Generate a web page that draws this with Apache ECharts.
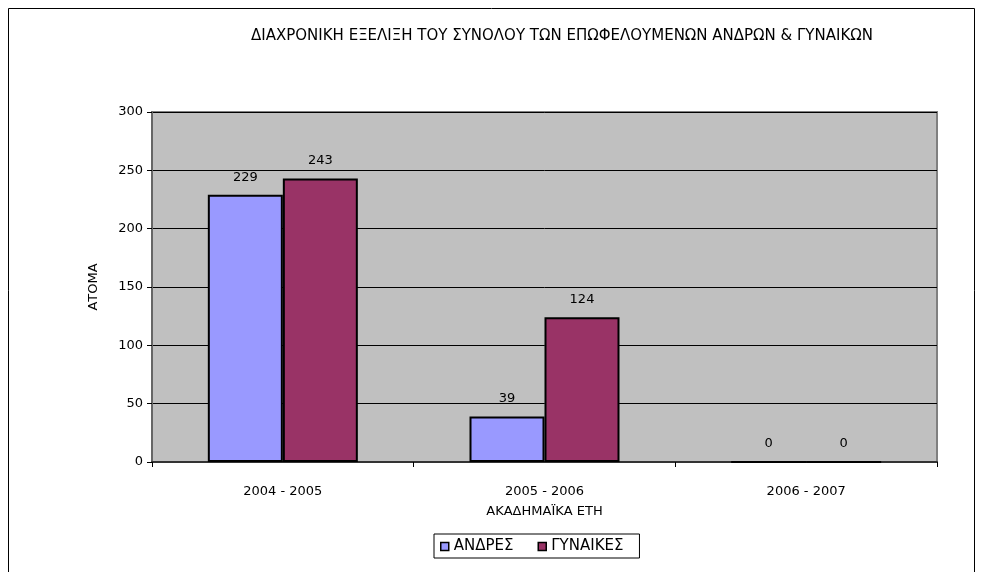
<!DOCTYPE html>
<html>
<head>
<meta charset="utf-8">
<script src="https://cdn.jsdelivr.net/npm/echarts@6/dist/echarts.min.js"></script>
<style>
html,body{margin:0;padding:0;background:#fff;}
#chart{width:982px;height:572px;}
</style>
</head>
<body>
<div id="chart"></div>
<script>
// ακαδημαϊκά έτη
var years = ['2004 - 2005', '2005 - 2006', '2006 - 2007'];
var andres = [229, 39, 0];
var gynaikes = [243, 124, 0];
var yTicks = [0, 50, 100, 150, 200, 250, 300];

var font = '"DejaVu Sans", Arial, sans-serif';

var option = {
	animation: false,
	textStyle: { fontFamily: font },
	graphic: [{
		type: 'rect',
		shape: { x: 8.5, y: 8.5, width: 966, height: 600 },
		style: { fill: 'none', stroke: '#000', lineWidth: 1 },
		silent: true
	}],
	title: {
		text: 'ΔΙΑΧΡΟΝΙΚΗ ΕΞΕΛΙΞΗ ΤΟΥ ΣΥΝΟΛΟΥ ΤΩΝ ΕΠΩΦΕΛΟΥΜΕΝΩΝ ΑΝΔΡΩΝ & ΓΥΝΑΙΚΩΝ',
		left: 557,
		textAlign: 'center',
		top: 24,
		textStyle: { fontSize: 15, fontWeight: 'normal', color: '#000', fontFamily: font }
	},
	legend: {
		data: ['ΑΝΔΡΕΣ', 'ΓΥΝΑΙΚΕΣ'],
		left: 434,
		top: 534,
		itemWidth: 8,
		itemHeight: 8,
		itemGap: 24,
		icon: 'rect',
		borderColor: '#000',
		borderWidth: 1,
		padding: [5, 16, 4, 6],
		itemStyle: { borderColor: '#000', borderWidth: 1.5 },
		textStyle: { fontSize: 15, color: '#000', fontFamily: font }
	},
	grid: {
		left: 152,
		top: 112,
		width: 785,
		height: 350,
		show: true,
		backgroundColor: '#c0c0c0',
		borderColor: '#808080',
		borderWidth: 2
	},
	xAxis: {
		type: 'category',
		data: years,
		name: 'ΑΚΑΔΗΜΑΪΚΑ ΕΤΗ',
		nameLocation: 'middle',
		nameGap: 43,
		nameTextStyle: { fontSize: 13, color: '#000' },
		axisLine: { lineStyle: { color: '#333', width: 2 } },
		axisTick: { show: true, length: 5, lineStyle: { color: '#000' } },
		axisLabel: { fontSize: 13, color: '#000', margin: 23 }
	},
	yAxis: {
		type: 'value',
		min: 0,
		max: 300,
		interval: 50,
		name: 'ΑΤΟΜΑ',
		nameLocation: 'middle',
		nameGap: 52,
		nameRotate: 90,
		nameTextStyle: { fontSize: 13, color: '#000' },
		axisLine: { show: true, lineStyle: { color: '#666', width: 2 } },
		axisTick: { show: true, length: 5, lineStyle: { color: '#000' } },
		axisLabel: {
			fontSize: 13, color: '#000', margin: 9,
			formatter: function (v) { return yTicks.indexOf(v) >= 0 ? String(v) : ''; }
		},
		splitLine: { show: true, lineStyle: { color: '#000', width: 1 } }
	},
	series: [
		{
			name: 'ΑΝΔΡΕΣ',
			type: 'bar',
			data: andres,
			barWidth: 75,
			barGap: '0%',
			itemStyle: { color: '#9999ff', borderColor: '#000', borderWidth: 2 },
			label: { show: true, position: 'top', distance: 11, fontSize: 13, color: '#000' }
		},
		{
			name: 'ΓΥΝΑΙΚΕΣ',
			type: 'bar',
			data: gynaikes,
			barWidth: 75,
			barGap: '0%',
			itemStyle: { color: '#993366', borderColor: '#000', borderWidth: 2 },
			label: { show: true, position: 'top', distance: 11, fontSize: 13, color: '#000' }
		}
	]
};

var myChart = echarts.init(document.getElementById('chart'), null, { renderer: 'canvas' });
myChart.setOption(option, true);
</script>
</body>
</html>
